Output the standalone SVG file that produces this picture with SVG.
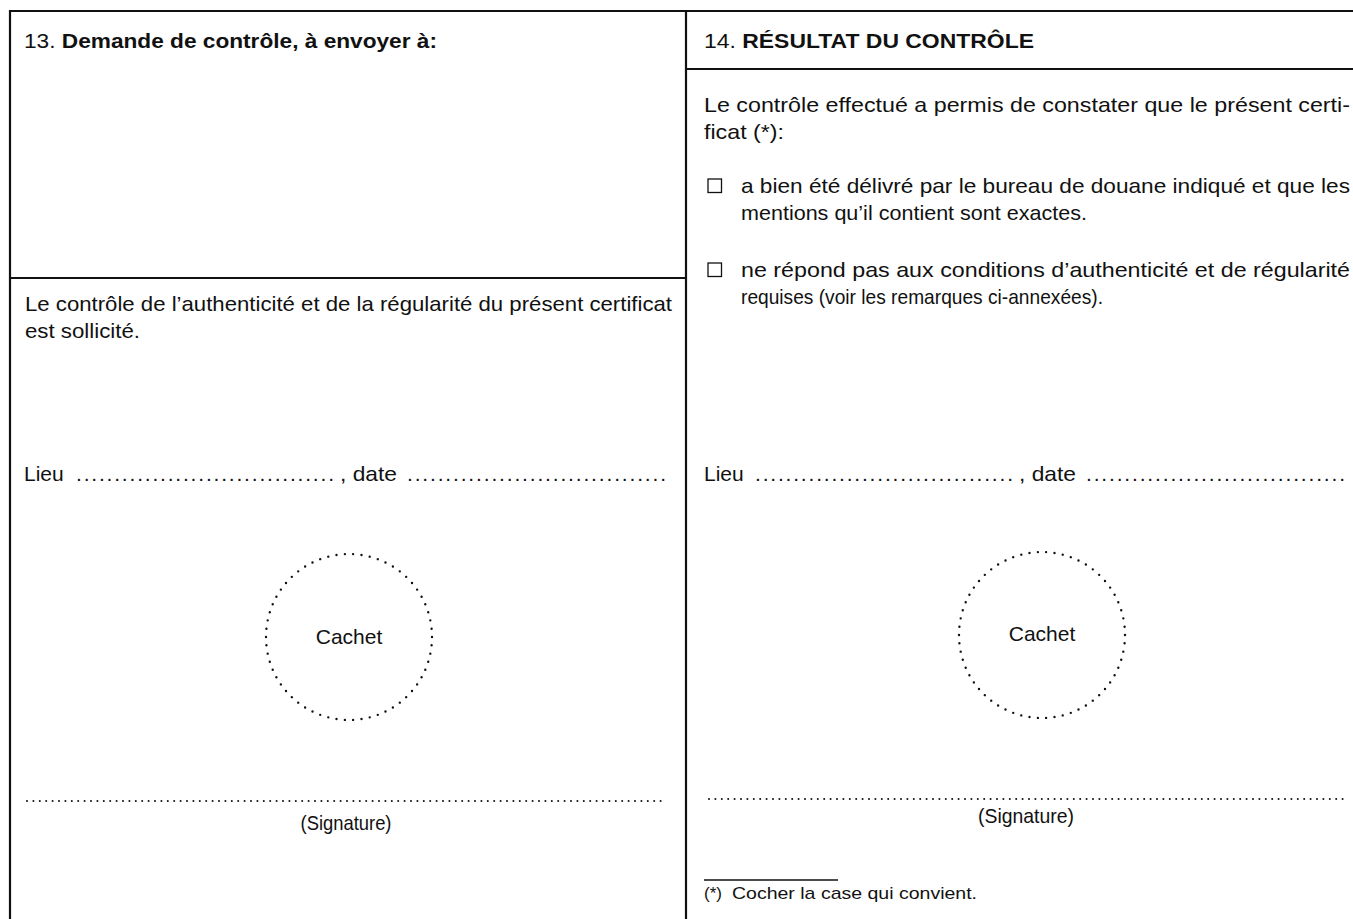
<svg xmlns="http://www.w3.org/2000/svg" width="1353" height="919" viewBox="0 0 1353 919">
<style>
.t{font-family:"Liberation Sans",Arial,sans-serif;font-size:21px;fill:#111}
.b{font-weight:bold}
.s{font-size:17px}
.frame{stroke:#111;stroke-width:2.2;fill:none}
.dot{fill:none;stroke:#111;stroke-width:2.4;stroke-linecap:round;stroke-dasharray:0 1}
.lead{fill:none;stroke:#111;stroke-width:2;stroke-linecap:round;stroke-dasharray:0 6.4}
.box{fill:none;stroke:#111;stroke-width:1.3}
</style>
<rect width="1353" height="919" fill="#fff"/>
<g id="frame">
<line class="frame" x1="10" y1="11" x2="1353" y2="11"/>
<line class="frame" x1="10" y1="10" x2="10" y2="919"/>
<line class="frame" x1="686" y1="10" x2="686" y2="919"/>
<line class="frame" x1="10" y1="278" x2="686" y2="278"/>
<line class="frame" x1="686" y1="69" x2="1353" y2="69"/>
</g>
<g id="box13">
<text class="t" x="24" y="48" textLength="413" lengthAdjust="spacingAndGlyphs">13. <tspan class="b">Demande de contrôle, à envoyer à:</tspan></text>
</g>
<g id="request">
<text class="t" x="25" y="311" textLength="647" lengthAdjust="spacingAndGlyphs">Le contrôle de l’authenticité et de la régularité du présent certificat</text>
<text class="t" x="25" y="338" textLength="115" lengthAdjust="spacingAndGlyphs">est sollicité.</text>
<text class="t" x="24" y="481">Lieu</text>
<text class="t" x="76" y="481" textLength="258" lengthAdjust="spacing">..................................</text>
<text class="t" x="340" y="481" textLength="57" lengthAdjust="spacingAndGlyphs">, date</text>
<text class="t" x="407" y="481" textLength="259" lengthAdjust="spacing">..................................</text>
<circle class="dot" cx="349" cy="637" r="83" pathLength="62"/>
<text class="t" x="349" y="644" text-anchor="middle">Cachet</text>
<line class="lead" x1="27" y1="801" x2="667" y2="801"/>
<text class="t" x="346" y="830" text-anchor="middle" textLength="91" lengthAdjust="spacingAndGlyphs">(Signature)</text>
</g>
<g id="box14">
<text class="t" x="704" y="48" textLength="330" lengthAdjust="spacingAndGlyphs">14. <tspan class="b">RÉSULTAT DU CONTRÔLE</tspan></text>
</g>
<g id="result">
<text class="t" x="704" y="112" textLength="646" lengthAdjust="spacingAndGlyphs">Le contrôle effectué a permis de constater que le présent certi-</text>
<text class="t" x="704" y="139" textLength="80" lengthAdjust="spacingAndGlyphs">ficat (*):</text>
<rect class="box" x="708" y="179" width="13.5" height="13.5"/>
<text class="t" x="741" y="193" textLength="609" lengthAdjust="spacingAndGlyphs">a bien été délivré par le bureau de douane indiqué et que les</text>
<text class="t" x="741" y="220" textLength="346" lengthAdjust="spacingAndGlyphs">mentions qu’il contient sont exactes.</text>
<rect class="box" x="708" y="263" width="13.5" height="13.5"/>
<text class="t" x="741" y="277" textLength="609" lengthAdjust="spacingAndGlyphs">ne répond pas aux conditions d’authenticité et de régularité</text>
<text class="t" x="741" y="304" textLength="362" lengthAdjust="spacingAndGlyphs">requises (voir les remarques ci-annexées).</text>
<text class="t" x="704" y="481">Lieu</text>
<text class="t" x="755" y="481" textLength="258" lengthAdjust="spacing">..................................</text>
<text class="t" x="1019" y="481" textLength="57" lengthAdjust="spacingAndGlyphs">, date</text>
<text class="t" x="1086" y="481" textLength="259" lengthAdjust="spacing">..................................</text>
<circle class="dot" cx="1042" cy="635" r="83" pathLength="62"/>
<text class="t" x="1042" y="641" text-anchor="middle">Cachet</text>
<line class="lead" x1="709" y1="799" x2="1346" y2="799"/>
<text class="t" x="1026" y="823" text-anchor="middle" textLength="96" lengthAdjust="spacingAndGlyphs">(Signature)</text>
<line x1="704" y1="880" x2="838" y2="880" stroke="#111" stroke-width="1.6"/>
<text class="t s" x="704" y="899">(*)<tspan x="732" textLength="245" lengthAdjust="spacingAndGlyphs">Cocher la case qui convient.</tspan></text>
</g>
</svg>
